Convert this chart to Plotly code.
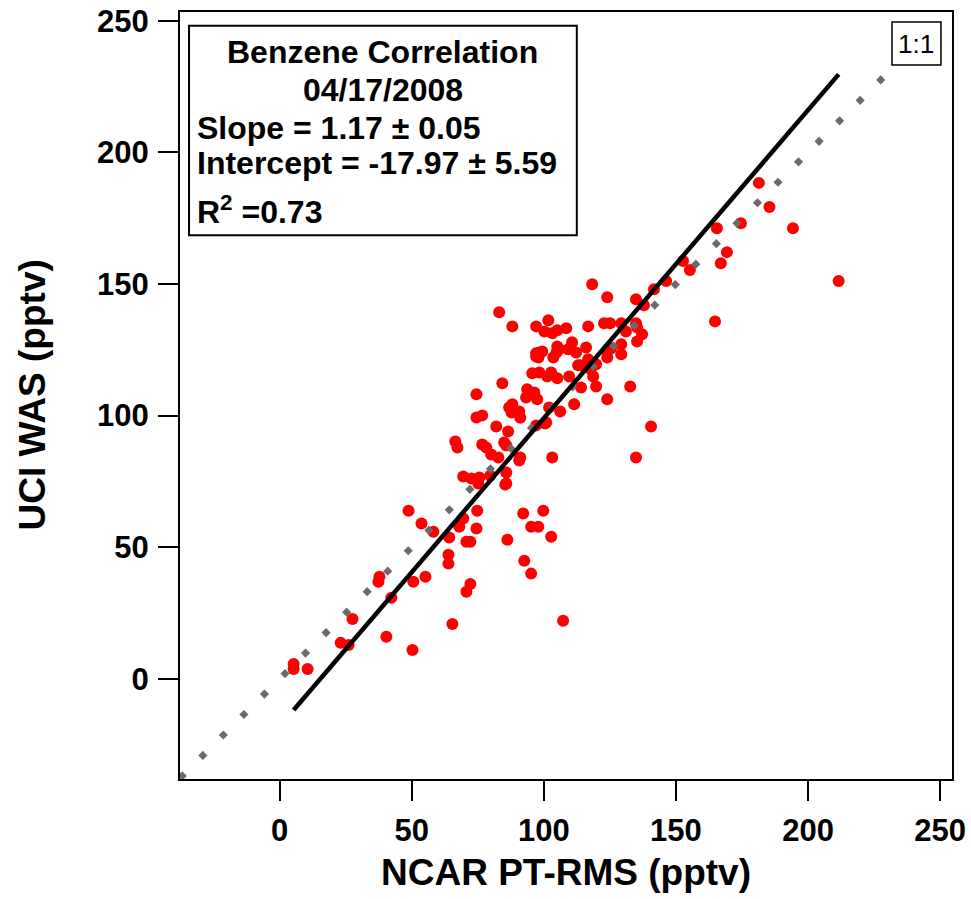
import plotly.graph_objects as go

# NCAR PT-RMS (x) vs UCI WAS (y), pptv
ncar = [5.3, 5.3, 10.6, 23.1, 26.1, 27.6, 37.8, 37.4, 42.3, 40.4,
        50.3, 48.8, 50.6, 55.2, 53.7, 58.2, 64.2, 63.9, 63.9, 65.4,
        68.0, 69.5, 70.7, 72.2, 70.7, 72.2, 74.8, 74.5, 85.4, 86.2,
        92.2, 99.8, 95.2, 97.9, 102.8, 92.6, 95.2, 107.3, 66.5, 67.3,
        69.5, 72.6, 75.6, 75.2, 79.7, 85.8, 85.8, 76.7, 78.2, 85.0,
        85.8, 80.1, 82.8, 91.1, 90.7, 103.2, 82.0, 86.5, 91.1, 97.1,
        100.5, 74.5, 76.7, 74.5, 84.3, 93.7, 95.2, 96.4, 93.3, 97.5,
        86.9, 88.1, 90.7, 87.8, 100.9, 102.0, 106.2, 111.5, 114.1, 118.7,
        109.6, 105.1, 102.8, 101.3, 98.3, 95.6, 113.8, 116.8, 119.8, 105.1,
        105.8, 98.3, 97.1, 99.4, 103.6, 109.2, 110.7, 112.2, 116.0, 124.0,
        132.7, 119.8, 140.6, 134.9, 124.0, 124.7, 129.3, 129.3, 125.5, 135.3,
        137.2, 131.1, 135.3, 134.9, 129.3, 122.8, 125.1, 116.8, 108.5, 105.1,
        103.2, 100.2, 101.7, 97.1, 88.1, 83.1, 118.3, 124.0, 134.9, 137.9,
        141.7, 146.3, 152.7, 155.3, 164.8, 165.5, 167.0, 169.3, 174.6, 181.4,
        185.4, 194.3, 211.6, 124.0, 97.1, 98.0, 104.8, 113.0, 117.8]
uci = [5.7, 3.8, 3.8, 13.7, 12.9, 22.8, 38.8, 36.9, 30.8, 16.0,
       11.0, 63.9, 36.9, 38.8, 59.0, 55.9, 53.7, 47.2, 43.8, 20.9,
       57.8, 60.9, 52.1, 52.1, 33.1, 36.1, 63.9, 57.1, 73.8, 52.9,
       62.8, 63.9, 57.8, 57.8, 54.0, 44.9, 40.0, 22.1, 90.2, 87.9,
       76.9, 76.1, 76.5, 74.2, 77.2, 78.4, 74.2, 89.0, 87.9, 89.8,
       88.7, 85.2, 84.1, 84.1, 83.0, 84.1, 95.9, 94.0, 99.2, 96.3,
       97.0, 99.3, 100.1, 108.1, 112.3, 110.0, 108.1, 108.8, 106.9, 106.2,
       103.1, 104.3, 101.6, 101.2, 97.4, 103.1, 101.6, 104.3, 110.7, 114.9,
       114.9, 114.2, 116.4, 114.9, 116.4, 116.1, 119.1, 121.4, 119.5, 126.3,
       125.2, 124.0, 122.5, 124.4, 122.1, 125.2, 127.9, 124.0, 125.9, 106.2,
       111.1, 111.1, 95.9, 84.1, 122.1, 125.2, 123.3, 127.1, 125.6, 128.2,
       130.9, 132.0, 133.6, 135.1, 135.1, 135.1, 135.1, 133.9, 133.2, 132.4,
       131.3, 132.0, 136.2, 133.9, 133.9, 139.3, 149.9, 145.0, 144.2, 141.9,
       148.0, 151.1, 158.7, 155.3, 135.8, 171.2, 157.9, 162.1, 173.1, 188.4,
       179.2, 171.2, 151.1, 124.4, 123.7, 122.1, 124.0, 119.1, 117.6]

slope = 1.17
intercept = -17.97
one_to_one = [-37.7, 234]
x_ticks = [0, 50, 100, 150, 200, 250]
y_ticks = [0, 50, 100, 150, 200, 250]

fit_x = [min(ncar), max(ncar)]
fit_y = [slope * v + intercept for v in fit_x]

fig = go.Figure()
fig.add_trace(go.Scatter(x=ncar, y=uci, mode="markers",
                         marker=dict(color="#FF0000", size=12, line=dict(width=0)),
                         showlegend=False))
fig.add_trace(go.Scatter(x=one_to_one, y=one_to_one, mode="lines",
                         line=dict(color="#6b6b6b", width=6.5, dash="6.5px,22.5px"),
                         showlegend=False))
fig.add_trace(go.Scatter(x=fit_x, y=fit_y, mode="lines",
                         line=dict(color="black", width=4.5), showlegend=False))

FONT = "Liberation Sans, Arial, sans-serif"
axis_common = dict(showgrid=False, zeroline=False, showline=True, linecolor="black",
                   linewidth=2, mirror=True, ticks="outside", ticklen=20, tickwidth=2,
                   tickcolor="black",
                   tickfont=dict(family=FONT, size=31, color="black", weight="bold"),
                   automargin=False)
fig.update_xaxes(range=[-37.7, 254.5], tickvals=x_ticks, ticklabelstandoff=3, **axis_common)
fig.update_yaxes(range=[-38.0, 253.3], tickvals=y_ticks, ticklabelstandoff=3, **axis_common)

fig.update_layout(
    width=971, height=899,
    margin=dict(l=180, r=19, t=12, b=120, autoexpand=False),
    plot_bgcolor="white", paper_bgcolor="white",
    font=dict(family=FONT, color="black"),
    shapes=[
        dict(type="rect", xref="paper", yref="paper", x0=0.0117, x1=0.514, y0=0.709, y1=0.982,
             line=dict(color="black", width=2), fillcolor="white", layer="above"),
        dict(type="rect", xref="paper", yref="paper", x0=0.9223, x1=0.9857, y0=0.931, y1=0.9869,
             line=dict(color="black", width=1.5), fillcolor="white", layer="above"),
    ],
    annotations=[
        dict(text="<b>Benzene Correlation</b>", xref="paper", yref="paper", x=0.2628, y=0.9480,
             xanchor="center", yanchor="middle", showarrow=False, font=dict(size=32)),
        dict(text="<b>04/17/2008</b>", xref="paper", yref="paper", x=0.2628, y=0.8983,
             xanchor="center", yanchor="middle", showarrow=False, font=dict(size=32)),
        dict(text="<b>Slope = 1.17 ± 0.05</b>", xref="paper", yref="paper", x=0.0194, y=0.8492,
             xanchor="left", yanchor="middle", showarrow=False, font=dict(size=32)),
        dict(text="<b>Intercept = -17.97 ± 5.59</b>", xref="paper", yref="paper", x=0.0194, y=0.8031,
             xanchor="left", yanchor="middle", showarrow=False, font=dict(size=32)),
        dict(text="<b>R<sup>2</sup> =0.73</b>", xref="paper", yref="paper", x=0.0194, y=0.7419,
             xanchor="left", yanchor="middle", showarrow=False, font=dict(size=32)),
        dict(text="1:1", xref="paper", yref="paper", x=0.954, y=0.9589,
             xanchor="center", yanchor="middle", showarrow=False, font=dict(size=26)),
        dict(text="<b>NCAR PT-RMS (pptv)</b>", xref="paper", yref="paper", x=0.4995, y=-0.1213,
             xanchor="center", yanchor="middle", showarrow=False, font=dict(size=37)),
        dict(text="<b>UCI WAS (pptv)</b>", xref="paper", yref="paper", x=-0.1917, y=0.5,
             xanchor="center", yanchor="middle", textangle=-90, showarrow=False, font=dict(size=37)),
    ],
)

fig.write_html("out.html", config={"displayModeBar": False},
               post_script="document.body.style.margin='0';document.body.style.overflow='hidden';")
